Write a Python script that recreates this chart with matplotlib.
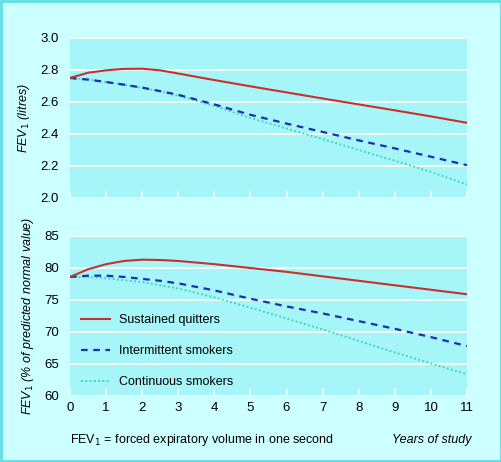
import matplotlib
matplotlib.use("Agg")
import matplotlib.pyplot as plt
from matplotlib.patches import Rectangle

plt.rcParams['font.family'] = ['Liberation Sans Narrow', 'Liberation Sans', 'DejaVu Sans']

# years of study
years = [0, 0.5, 1, 1.5, 2, 2.5, 3, 4, 5, 6, 7, 8, 9, 10, 11]

# FEV1 in litres
fev_quit = [2.75, 2.783, 2.798, 2.807, 2.808, 2.798, 2.778, 2.737, 2.698, 2.66, 2.622, 2.585, 2.548, 2.51, 2.47]
fev_inter = [2.75, 2.74, 2.725, 2.708, 2.69, 2.668, 2.645, 2.585, 2.52, 2.465, 2.413, 2.36, 2.31, 2.258, 2.205]
fev_cont = [2.75, 2.74, 2.725, 2.708, 2.688, 2.665, 2.64, 2.575, 2.50, 2.435, 2.368, 2.30, 2.233, 2.163, 2.085]

# FEV1 % of predicted normal value
pct_quit = [78.6, 79.8, 80.6, 81.1, 81.3, 81.25, 81.1, 80.6, 80.0, 79.4, 78.7, 78.0, 77.3, 76.6, 75.9]
pct_inter = [78.6, 78.8, 78.8, 78.6, 78.3, 78.0, 77.6, 76.5, 75.2, 74.0, 72.9, 71.7, 70.5, 69.2, 67.8]
pct_cont = [78.6, 78.6, 78.4, 78.1, 77.8, 77.3, 76.8, 75.4, 73.8, 72.1, 70.4, 68.6, 66.8, 65.1, 63.4]

labels = ["Sustained quitters", "Intermittent smokers", "Continuous smokers"]

bg = "#ccffff"
panel = "#a6f6f9"
c_red = "#c8302c"
c_blue = "#1c2eb8"
c_cyan = "#3cd8b8"

fig = plt.figure(figsize=(5.02, 4.62), dpi=100, facecolor=bg)
fig.patches.append(Rectangle((0.002, 0.002), 0.996, 0.996, transform=fig.transFigure,
                             fill=False, edgecolor="#5fe0e6", linewidth=2))

ax1 = fig.add_axes([70/502, 1 - 198/462, 397/502, 160/462])
ax2 = fig.add_axes([70/502, 1 - 396/462, 397/502, 160/462])


def style(ax, yticks):
    ax.set_facecolor(panel)
    for s in ax.spines.values():
        s.set_visible(False)
    ax.set_xlim(0, 11)
    ax.set_xticks(range(0, 12))
    ax.set_yticks(yticks)
    ax.set_ylim(yticks[0], yticks[-1])
    ax.grid(axis='y', color='white', linewidth=1.3)
    ax.set_axisbelow(True)
    ax.tick_params(axis='x', direction='in', color='white', length=5, width=1.2,
                   labelsize=9.5, pad=4)
    ax.tick_params(axis='y', length=0, labelsize=9.5, pad=8)


style(ax1, [2.0, 2.2, 2.4, 2.6, 2.8, 3.0])
ax1.set_yticklabels(["2.0", "2.2", "2.4", "2.6", "2.8", "3.0"])
ax1.tick_params(axis='x', labelbottom=False)
ax1.plot(years, fev_cont, color=c_cyan, linestyle=(0, (1, 1.2)), linewidth=1.4)
ax1.plot(years, fev_inter, color=c_blue, linestyle=(0, (3, 2.5)), linewidth=1.6)
ax1.plot(years, fev_quit, color=c_red, linewidth=1.5)
ax1.set_ylabel("FEV$_1$ (litres)", style='italic', fontsize=9, labelpad=6)

style(ax2, [60, 65, 70, 75, 80, 85])
l3, = ax2.plot(years, pct_cont, color=c_cyan, linestyle=(0, (1, 1.2)), linewidth=1.4)
l2, = ax2.plot(years, pct_inter, color=c_blue, linestyle=(0, (3, 2.5)), linewidth=1.6)
l1, = ax2.plot(years, pct_quit, color=c_red, linewidth=1.5)
ax2.set_ylabel("FEV$_1$ (% of predicted normal value)", style='italic', fontsize=9, labelpad=6)
ax2.legend([l1, l2, l3], labels, loc='lower left', bbox_to_anchor=(0.0, -0.02),
           frameon=False, fontsize=9, handlelength=2.3, handletextpad=0.7,
           labelspacing=1.52)

fig.text(70/502, 1 - 440/462, "FEV$_1$ = forced expiratory volume in one second",
         fontsize=9, va='center', ha='left')
fig.text(472/502, 1 - 440/462, "Years of study", fontsize=9, style='italic',
         va='center', ha='right')

fig.savefig("out.png", dpi=100, facecolor=bg)
